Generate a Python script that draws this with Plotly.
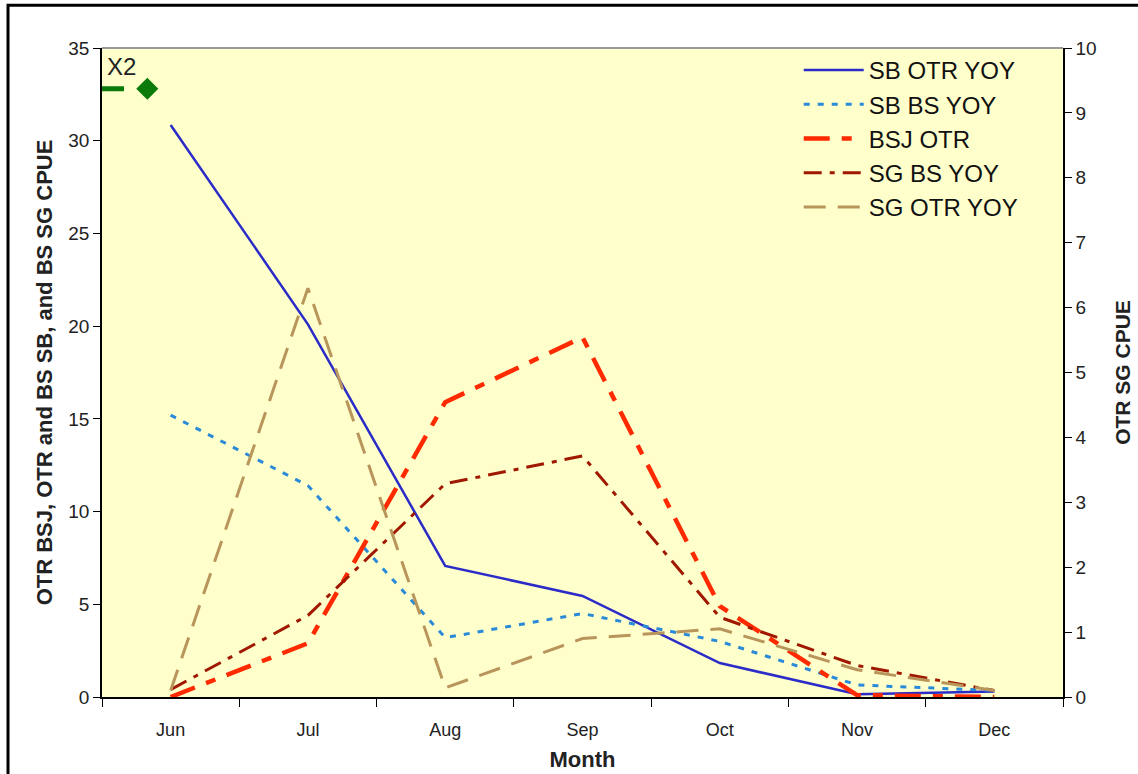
import plotly.graph_objects as go

months = ["Jun", "Jul", "Aug", "Sep", "Oct", "Nov", "Dec"]
sb_otr_yoy = [30.85, 20.1, 7.07, 5.45, 1.83, 0.15, 0.3]
sb_bs_yoy = [15.2, 11.4, 3.2, 4.5, 3.0, 0.65, 0.35]
bsj_otr = [0.0, 2.9, 15.9, 19.4, 4.9, 0.1, 0.0]
sg_bs_yoy = [0.4, 4.4, 11.5, 13.0, 4.3, 1.7, 0.35]
sg_otr_yoy = [0.1, 6.3, 0.14, 0.9, 1.05, 0.42, 0.1]   # right axis
x2_line_x = [-0.5, -0.17]
x2_y = [32.8, 32.8]
x2_point_x = [-0.17]

xi = list(range(len(months)))
fig = go.Figure()

fig.add_trace(go.Scatter(x=xi, y=sb_otr_yoy, name="SB OTR YOY", mode="lines",
                         line=dict(color="#2B2BC8", width=2.5)))
fig.add_trace(go.Scatter(x=xi, y=sb_bs_yoy, name="SB BS YOY", mode="lines",
                         line=dict(color="#2A8AD8", width=3, dash="6px,8px")))
fig.add_trace(go.Scatter(x=xi, y=bsj_otr, name="BSJ OTR", mode="lines",
                         line=dict(color="#FF2A00", width=4.5, dash="26px,12px,10px,12px")))
fig.add_trace(go.Scatter(x=xi, y=sg_bs_yoy, name="SG BS YOY", mode="lines",
                         line=dict(color="#A01800", width=3, dash="18px,8px,5px,8px")))
fig.add_trace(go.Scatter(x=xi, y=sg_otr_yoy, name="SG OTR YOY", mode="lines", yaxis="y2",
                         line=dict(color="#B8955A", width=3, dash="22px,12px")))
fig.add_trace(go.Scatter(x=x2_line_x, y=x2_y, mode="lines", showlegend=False,
                         line=dict(color="#0A7A0A", width=5, dash="22px,22px"),
                         cliponaxis=False))
fig.add_trace(go.Scatter(x=x2_point_x, y=x2_y[:1], mode="markers", showlegend=False,
                         marker=dict(symbol="diamond", size=17, color="#0A7A0A", opacity=1,
                                     line=dict(width=0)),
                         cliponaxis=False))

fig.add_annotation(x=-0.48, y=34.85, xref="x", yref="y", text="X2", showarrow=False,
                   xanchor="left", yanchor="top", font=dict(size=24, color="#222"))

# outer frame and gray top border
fig.add_shape(type="rect", xref="paper", yref="paper", x0=-0.0978, x1=1.2, y0=-0.3, y1=1.066,
              line=dict(color="black", width=3), layer="above")
fig.add_shape(type="line", xref="paper", yref="paper", x0=0, x1=1, y0=1, y1=1,
              line=dict(color="#999999", width=2))

font = "Liberation Sans, Arial, sans-serif"
fig.update_layout(
    width=1138, height=774,
    margin=dict(l=102, r=75, t=48, b=77, autoexpand=False),
    paper_bgcolor="white", plot_bgcolor="#FFFFCC",
    font=dict(family=font, size=17, color="#222"),
    showlegend=True,
    legend=dict(x=0.725, y=1.0, xanchor="left", yanchor="top", bgcolor="rgba(0,0,0,0)",
                font=dict(size=24, color="#111"), itemwidth=60),
    xaxis=dict(range=[-0.5, 6.5], tickvals=xi, ticktext=months, ticks="outside", ticklen=16,
               tickcolor="rgba(0,0,0,0)", showgrid=False, automargin=False,
               zeroline=False, showline=True, linecolor="black", linewidth=1.5,
               minor=dict(tick0=-0.5, dtick=1, ticks="outside", ticklen=8, tickcolor="black"),
               tickfont=dict(size=18),
               title=dict(text="<b>Month</b>", font=dict(size=22), standoff=12)),
    yaxis=dict(range=[0, 35], dtick=5, ticks="outside", ticklen=7, tickcolor="black",
               showgrid=False, zeroline=False, showline=True, linecolor="black", linewidth=1.5,
               tickfont=dict(size=19), automargin=False,
               title=dict(text="<b>OTR BSJ, OTR and BS SB, and BS SG CPUE</b>",
                          font=dict(size=22), standoff=10)),
    yaxis2=dict(range=[0, 10], dtick=1, overlaying="y", side="right", ticks="outside",
                ticklen=7, tickcolor="black", showgrid=False, zeroline=False, showline=True,
                linecolor="black", linewidth=1.5, tickfont=dict(size=19), automargin=False,
                title=dict(text="<b>OTR SG CPUE</b>", font=dict(size=21), standoff=20)),
)

fig.write_html("out.html", config={"displayModeBar": False},
               post_script="document.body.style.margin='0';document.body.style.overflow='hidden';")
